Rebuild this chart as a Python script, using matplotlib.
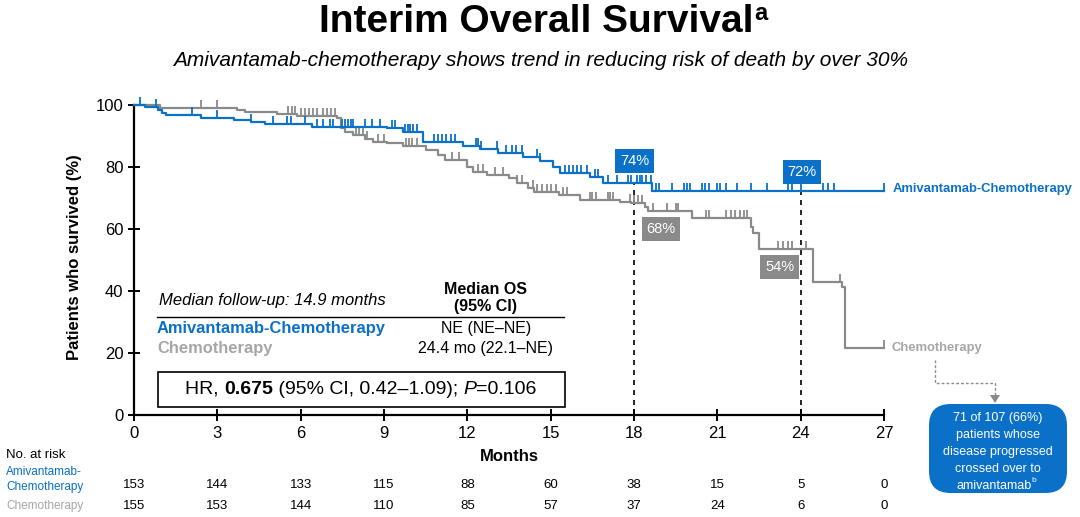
import numpy as np
import matplotlib
matplotlib.use("Agg")
import matplotlib.pyplot as plt
from matplotlib.patches import FancyBboxPatch, Rectangle

plt.rcParams['font.family'] = ['Liberation Sans', 'DejaVu Sans']

# ---------------- data ----------------
months_ticks = [0, 3, 6, 9, 12, 15, 18, 21, 24, 27]
y_ticks = [0, 20, 40, 60, 80, 100]

amiv_t = [0, 0.4, 0.85, 1.0, 1.15, 2.4, 3.6, 4.2, 4.7, 6.4, 9.1, 9.7, 10.4,
          11.85, 12.45, 13.1, 14.0, 14.6, 15.1, 15.35, 16.4, 16.9, 18.65]
amiv_s = [100, 99.3, 98.5, 97.5, 96.8, 95.7, 95.2, 94.4, 93.8, 93.0, 92.5, 91.4, 88.2,
          86.8, 85.8, 84.6, 83.2, 81.8, 80.1, 78.0, 76.9, 74.8, 72.4]
amiv_censor = [0.2, 0.8, 2.1, 3.0, 4.2, 5.0, 5.5, 5.65, 6.15, 6.6, 6.8, 7.05, 7.15,
               7.5, 7.6, 7.7, 7.8, 7.9, 8.3, 8.55, 8.85, 9.3, 9.4, 9.75, 9.85, 9.95,
               10.05, 10.2, 10.8, 10.95, 11.1, 11.25, 11.4, 11.55, 12.3, 12.4, 12.5,
               13.05, 13.4, 13.6, 13.75, 13.95, 14.5, 14.6, 15.5, 15.65, 15.8, 15.95,
               16.1, 16.3, 16.6, 16.7, 17.05, 17.4, 17.8, 17.9, 18.1, 18.2, 18.3, 18.45,
               18.6, 18.8, 18.9, 19.35, 19.8, 19.9, 20.0, 20.45, 20.55, 20.7, 21.0,
               21.1, 21.3, 21.7, 22.2, 22.8, 23.55, 23.7, 24.0, 24.8, 25.0, 25.2, 27.0]

chemo_t = [0, 0.95, 3.7, 4.0, 5.15, 5.85, 7.3, 7.45, 7.6, 7.9, 8.3, 8.6, 9.1, 9.7,
           10.5, 10.95, 11.2, 12.0, 12.2, 12.7, 13.5, 13.8, 14.2, 14.4, 15.3, 16.05,
           17.5, 17.9, 18.4, 18.5, 20.1, 22.2, 22.3, 22.5, 24.45, 25.5, 25.6]
chemo_s = [100, 99.0, 98.4, 97.8, 97.1, 96.5, 95.7, 92.5, 91.4, 90.3, 88.9, 88.2, 87.6,
           86.9, 85.5, 83.9, 82.3, 80.1, 78.5, 77.4, 76.3, 74.7, 73.1, 72.0, 71.0, 69.4,
           68.8, 68.3, 67.2, 65.8, 63.6, 60.5, 58.7, 53.6, 43.0, 41.4, 21.5]
chemo_censor = [2.4, 3.0, 5.55, 5.7, 5.8, 6.0, 6.15, 6.3, 6.45, 6.6, 6.8, 6.95, 7.1,
                7.25, 8.0, 8.1, 8.25, 8.4, 8.8, 9.0, 9.8, 9.9, 10.0, 10.2, 11.45, 11.7,
                12.4, 12.55, 13.0, 13.3, 13.8, 13.95, 14.35, 14.5, 14.7, 14.85, 15.0,
                15.2, 15.45, 15.6, 16.4, 16.5, 16.65, 17.05, 17.15, 17.25, 17.85, 18.0,
                18.15, 18.3, 18.7, 19.2, 19.5, 19.6, 20.6, 20.7, 21.3, 21.5, 21.65, 21.8,
                21.95, 22.05, 23.2, 23.35, 23.55, 23.7, 24.2, 25.4, 27.0]

risk_amiv = [153, 144, 133, 115, 88, 60, 38, 15, 5, 0]
risk_chemo = [155, 153, 144, 110, 85, 57, 37, 24, 6, 0]

landmark_months = [18, 24]
amiv_landmark_labels = ['74%', '72%']
chemo_landmark_labels = ['68%', '54%']

callout_lines = ['71 of 107 (66%)', 'patients whose', 'disease progressed',
                 'crossed over to', 'amivantamab']

BLUE = '#0a70c8'
GRAY = '#8a8a8a'
LGRAY = '#a6a6a6'

W, H = 1080, 517
fig = plt.figure(figsize=(W / 100, H / 100), dpi=100)

def fx(x):
    return x / W

def fy(y):
    return 1 - y / H

# axes: x 0..27 -> px 134..884 ; y 0..100 -> px 415..105
ymax = 102
top_px = 415 - ymax * 3.1
ax = fig.add_axes([fx(134), fy(415), fx(884) - fx(134), fy(top_px) - fy(415)])
ax.set_xlim(0, 27)
ax.set_ylim(0, ymax)
for sp in ['top', 'right']:
    ax.spines[sp].set_visible(False)
ax.spines['left'].set_bounds(0, 100)
ax.spines['left'].set_linewidth(1.6)
ax.spines['bottom'].set_linewidth(1.6)
ax.set_xticks(months_ticks)
ax.set_yticks(y_ticks)
ax.tick_params(axis='both', direction='inout', length=8, width=1.4, labelsize=12,
               colors='black')
ax.tick_params(axis='x', pad=4)
ax.set_xlabel('Months', fontsize=12, fontweight='bold', labelpad=6)
ax.set_ylabel('Patients who survived (%)', fontsize=12, fontweight='bold', labelpad=10)


def step_value(tt, ss, x):
    tt = np.asarray(tt)
    ss = np.asarray(ss)
    idx = np.searchsorted(tt, x, side='right') - 1
    return ss[np.clip(idx, 0, len(ss) - 1)]


for tt, ss, cens, col in [(chemo_t, chemo_s, chemo_censor, GRAY),
                          (amiv_t, amiv_s, amiv_censor, BLUE)]:
    xs = list(tt) + [27]
    ys = list(ss) + [ss[-1]]
    ax.step(xs, ys, where='post', color=col, lw=1.6, clip_on=False, zorder=3)
    cy = step_value(tt, ss, np.array(cens))
    ax.plot(cens, cy, linestyle='none', marker=2, markersize=6, markeredgewidth=1.3,
            color=col, clip_on=False, zorder=3)

# dashed landmark lines
for m in landmark_months:
    v = step_value(amiv_t, amiv_s, m)
    ax.plot([m, m], [0, v], ls=(0, (3, 3)), color='black', lw=1.2, zorder=2)

# landmark boxes
box_pos_amiv = [(18.03, 81.9), (24.05, 78.4)]
box_pos_chemo = [(18.97, 60.0), (23.25, 47.7)]
for (bx, by), lab in zip(box_pos_amiv, amiv_landmark_labels):
    ax.text(bx, by, lab, ha='center', va='center', color='white', fontsize=10.5,
            bbox=dict(boxstyle='square,pad=0.33', fc=BLUE, ec='none'), zorder=5)
for (bx, by), lab in zip(box_pos_chemo, chemo_landmark_labels):
    ax.text(bx, by, lab, ha='center', va='center', color='white', fontsize=10.5,
            bbox=dict(boxstyle='square,pad=0.33', fc=GRAY, ec='none'), zorder=5)

# end-of-curve labels
fig.text(fx(893), fy(189), 'Amivantamab-Chemotherapy', color=BLUE, fontsize=9.4,
         fontweight='bold', ha='left', va='center')
fig.text(fx(891), fy(348), 'Chemotherapy', color=LGRAY, fontsize=9.4,
         fontweight='bold', ha='left', va='center')

# title
ttl = fig.text(fx(536), fy(22), 'Interim Overall Survival', fontsize=28,
               fontweight='bold', ha='center', va='center')
fig.canvas.draw()
renderer = fig.canvas.get_renderer()
bb = ttl.get_window_extent(renderer)
fig.text(bb.x1 / W + 0.001, fy(13), 'a', fontsize=17, fontweight='bold',
         ha='left', va='center')
fig.text(fx(541), fy(60), 'Amivantamab-chemotherapy shows trend in reducing risk of death by over 30%',
         fontsize=15, style='italic', ha='center', va='center')

# median table
fig.text(fx(159), fy(300), 'Median follow-up: 14.9 months', fontsize=12, style='italic',
         ha='left', va='center')
fig.text(fx(486), fy(290), 'Median OS', fontsize=11.5, fontweight='bold', ha='center', va='center')
fig.text(fx(486), fy(307), '(95% CI)', fontsize=11.5, fontweight='bold', ha='center', va='center')
fig.add_artist(plt.Line2D([fx(157), fx(564)], [fy(317), fy(317)], color='black', lw=1.0))
fig.text(fx(157), fy(328), 'Amivantamab-Chemotherapy', fontsize=11.9, fontweight='bold',
         color=BLUE, ha='left', va='center')
fig.text(fx(486), fy(328), 'NE (NE–NE)', fontsize=11.5, ha='center', va='center')
fig.text(fx(157), fy(349), 'Chemotherapy', fontsize=11.9, fontweight='bold',
         color=LGRAY, ha='left', va='center')
fig.text(fx(486), fy(349), '24.4 mo (22.1–NE)', fontsize=11.5, ha='center', va='center')
fig.add_artist(Rectangle((fx(158), fy(407)), fx(565) - fx(158), fy(372) - fy(407),
                         fill=False, ec='black', lw=1.2, transform=fig.transFigure))
hr_parts = [('HR, ', 'normal', 'normal'), ('0.675', 'bold', 'normal'),
            (' (95% CI, 0.42–1.09); ', 'normal', 'normal'), ('P', 'normal', 'italic'),
            ('=0.106', 'normal', 'normal')]
tmp = []
total = 0
for s, wgt, sty in hr_parts:
    t = fig.text(0, 0, s, fontsize=14, fontweight=wgt, style=sty)
    w = t.get_window_extent(renderer).width
    tmp.append((t, w))
    total += w
x0 = 361 - total / 2
for (t, w) in tmp:
    t.set_position((fx(x0), fy(389)))
    t.set_va('center')
    t.set_ha('left')
    x0 += w

# number at risk
fig.text(fx(6), fy(455), 'No. at risk', fontsize=9.5, ha='left', va='center')
fig.text(fx(6), fy(472), 'Amivantamab-', fontsize=8.5, color=BLUE, ha='left', va='center')
fig.text(fx(6), fy(487), 'Chemotherapy', fontsize=8.5, color=BLUE, ha='left', va='center')
fig.text(fx(6), fy(506), 'Chemotherapy', fontsize=8.5, color=LGRAY, ha='left', va='center')
for m, ra, rc in zip(months_ticks, risk_amiv, risk_chemo):
    px = 134 + m * 750 / 27
    fig.text(fx(px), fy(485), str(ra), fontsize=9.5, ha='center', va='center')
    fig.text(fx(px), fy(506), str(rc), fontsize=9.5, ha='center', va='center')

# callout box
fig.add_artist(FancyBboxPatch((fx(929), fy(493)), fx(1067) - fx(929), fy(404) - fy(493),
                              boxstyle='round,pad=0,rounding_size=0.02',
                              fc=BLUE, ec='none', transform=fig.transFigure,
                              mutation_aspect=W / H))
line_y = [418, 435, 452, 469, 486]
last = None
for ly, s in zip(line_y, callout_lines):
    last = fig.text(fx(998) - 0.004 if s == callout_lines[-1] else fx(998), fy(ly), s,
                    fontsize=9, color='white', ha='center', va='center')
bl = last.get_window_extent(renderer)
fig.text(bl.x1 / W + 0.0005, fy(481), 'b', fontsize=6, color='white', ha='left', va='center')

# dashed connector
fig.add_artist(plt.Line2D([fx(935), fx(935), fx(995), fx(995)],
                          [fy(360), fy(383), fy(383), fy(396)],
                          color=GRAY, lw=1.0, ls=(0, (2, 1.5))))
fig.add_artist(plt.Polygon([[fx(990), fy(395)], [fx(1000), fy(395)], [fx(995), fy(403)]],
                           closed=True, fc=GRAY, ec='none', transform=fig.transFigure))

fig.savefig('out.png', dpi=100)
